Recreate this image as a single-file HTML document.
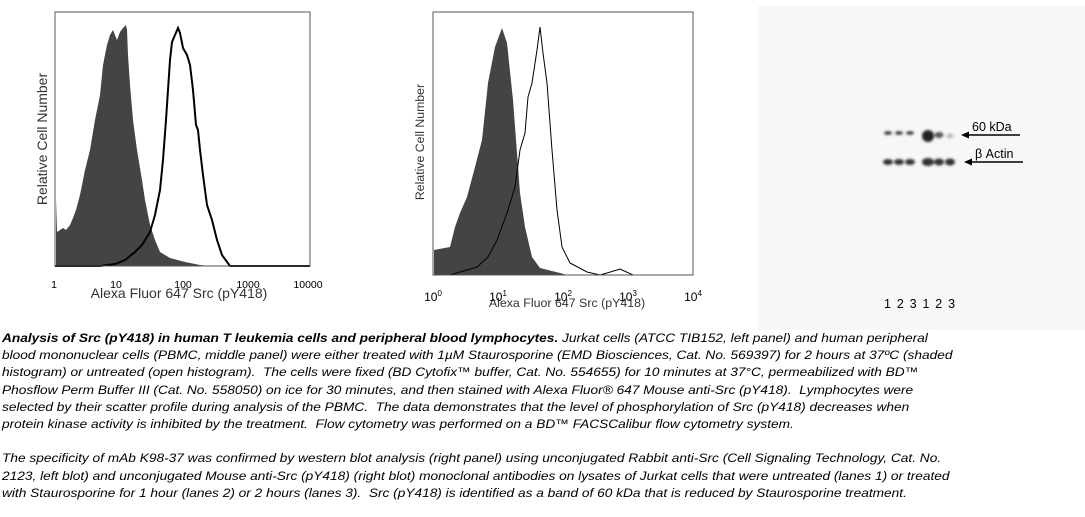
<!DOCTYPE html>
<html><head><meta charset="utf-8"><style>
html,body{margin:0;padding:0;background:#fff;width:1085px;height:517px;overflow:hidden}
svg{position:absolute;left:0;top:0}
.cap{position:absolute;left:2px;top:330px;width:960px;white-space:nowrap;font:italic 12.4px/17.2px "Liberation Sans",Arial,sans-serif;color:#000;transform:scaleX(1.105);transform-origin:0 0}
</style></head><body>
<svg width="1085" height="517" viewBox="0 0 1085 517" font-family="Liberation Sans, Arial, sans-serif">
<defs><filter id="bl" x="-50%" y="-50%" width="200%" height="200%"><feGaussianBlur stdDeviation="1.3"/></filter></defs>
<polygon fill="#444" points="56,266 56,200 57,232 60,230 63,228 66,230 70,225 73,218 76,210 80,195 85,170 90,150 95,120 100,95 103,65 107,45 110,35 113,30 115,35 117,40 120,32 123,28 126,25 127,30 128,55 130,85 133,120 137,150 142,180 145,200 150,225 155,240 160,252 170,258 185,262 200,265 210,266"/>
<polyline fill="none" stroke="#000" stroke-width="2" points="55,266 100,266 115,264 125,260 135,252 142,245 150,232 155,215 160,190 163,160 166,120 168,90 170,60 172,42 175,35 178,28 180,33 183,48 187,55 190,65 193,90 196,125 198,130 200,150 203,175 207,205 212,220 217,240 222,255 230,266 310,266"/>
<rect x="55" y="12" width="255" height="254" fill="none" stroke="#555" stroke-width="1"/>
<g font-size="10.5" text-anchor="middle" fill="#000">
<text x="54" y="288">1</text><text x="116" y="288">10</text><text x="183" y="288">100</text><text x="248" y="288">1000</text><text x="308" y="288">10000</text></g>
<text x="179" y="298" font-size="14" text-anchor="middle" fill="#333">Alexa Fluor 647 Src (pY418)</text>
<text transform="translate(47,139) rotate(-90)" font-size="14" text-anchor="middle" fill="#333">Relative Cell Number</text>
<polygon fill="#444" points="434,275 434,250 450,247 455,227 460,213 467,197 475,167 482,140 488,83 495,47 502,28 507,43 513,100 517,153 520,193 525,227 532,257 540,268 560,273 567,275"/>
<polyline fill="none" stroke="#000" stroke-width="1" points="433,275 450,275 477,267 488,257 497,240 507,213 515,187 520,150 525,133 528,97 532,83 537,50 540,27 543,53 547,83 552,150 557,210 562,247 570,263 587,272 600,275 607,273 620,269 633,275 693,275"/>
<rect x="433" y="12" width="260" height="263" fill="none" stroke="#555" stroke-width="1"/>
<g font-size="12" text-anchor="middle" fill="#000">
<text x="433" y="301">10<tspan font-size="8" dy="-5">0</tspan></text>
<text x="498" y="301">10<tspan font-size="8" dy="-5">1</tspan></text>
<text x="563" y="301">10<tspan font-size="8" dy="-5">2</tspan></text>
<text x="628" y="301">10<tspan font-size="8" dy="-5">3</tspan></text>
<text x="693" y="301">10<tspan font-size="8" dy="-5">4</tspan></text></g>
<text x="567" y="307" font-size="12.4" text-anchor="middle" fill="#333">Alexa Fluor 647 Src (pY418)</text>
<text transform="translate(424,142) rotate(-90)" font-size="12.3" text-anchor="middle" fill="#333">Relative Cell Number</text>
<rect x="758" y="6" width="327" height="324" fill="#f7f7f7"/>
<g filter="url(#bl)" fill="#333">
<ellipse cx="888" cy="133" rx="4" ry="1.8"/><ellipse cx="899" cy="133" rx="4" ry="1.8"/><ellipse cx="910" cy="133" rx="4" ry="1.8"/>
<ellipse cx="928" cy="136" rx="6" ry="6" fill="#222"/><ellipse cx="939" cy="135" rx="4.5" ry="3" fill="#555"/><ellipse cx="950" cy="136" rx="3.5" ry="2.5" fill="#bbb"/>
<ellipse cx="888" cy="162" rx="5" ry="3"/><ellipse cx="899" cy="162" rx="5" ry="3"/><ellipse cx="910" cy="162" rx="5" ry="3"/>
<ellipse cx="928" cy="162" rx="6" ry="4"/><ellipse cx="939" cy="162" rx="5" ry="3.5"/><ellipse cx="950" cy="162" rx="5" ry="3.5"/>
</g>
<line x1="966" y1="135" x2="1020" y2="135" stroke="#000" stroke-width="1.5"/><polygon points="961,135 969,131.5 969,138.5" fill="#000"/>
<line x1="969" y1="162" x2="1023" y2="162" stroke="#000" stroke-width="1.5"/><polygon points="964,162 972,158.5 972,165.5" fill="#000"/>
<text x="972" y="131" font-size="12.5" fill="#000">60 kDa</text>
<text x="975" y="158" font-size="12.5" fill="#000">β Actin</text>
<text x="884" y="308" font-size="12.5" fill="#000" letter-spacing="1.2">1 2 3 1 2 3</text>
</svg>
<div class="cap"><b>Analysis of Src (pY418) in human T leukemia cells and peripheral blood lymphocytes.</b> Jurkat cells (ATCC TIB152, left panel) and human peripheral<br>blood mononuclear cells (PBMC, middle panel) were either treated with 1µM Staurosporine (EMD Biosciences, Cat. No. 569397) for 2 hours at 37ºC (shaded<br>histogram) or untreated (open histogram).&nbsp; The cells were fixed (BD Cytofix™ buffer, Cat. No. 554655) for 10 minutes at 37°C, permeabilized with BD™<br>Phosflow Perm Buffer III (Cat. No. 558050) on ice for 30 minutes, and then stained with Alexa Fluor® 647 Mouse anti-Src (pY418).&nbsp; Lymphocytes were<br>selected by their scatter profile during analysis of the PBMC.&nbsp; The data demonstrates that the level of phosphorylation of Src (pY418) decreases when<br>protein kinase activity is inhibited by the treatment.&nbsp; Flow cytometry was performed on a BD™ FACSCalibur flow cytometry system.<br><br>The specificity of mAb K98-37 was confirmed by western blot analysis (right panel) using unconjugated Rabbit anti-Src (Cell Signaling Technology, Cat. No.<br>2123, left blot) and unconjugated Mouse anti-Src (pY418) (right blot) monoclonal antibodies on lysates of Jurkat cells that were untreated (lanes 1) or treated<br>with Staurosporine for 1 hour (lanes 2) or 2 hours (lanes 3).&nbsp; Src (pY418) is identified as a band of 60 kDa that is reduced by Staurosporine treatment.</div>
</body></html>
